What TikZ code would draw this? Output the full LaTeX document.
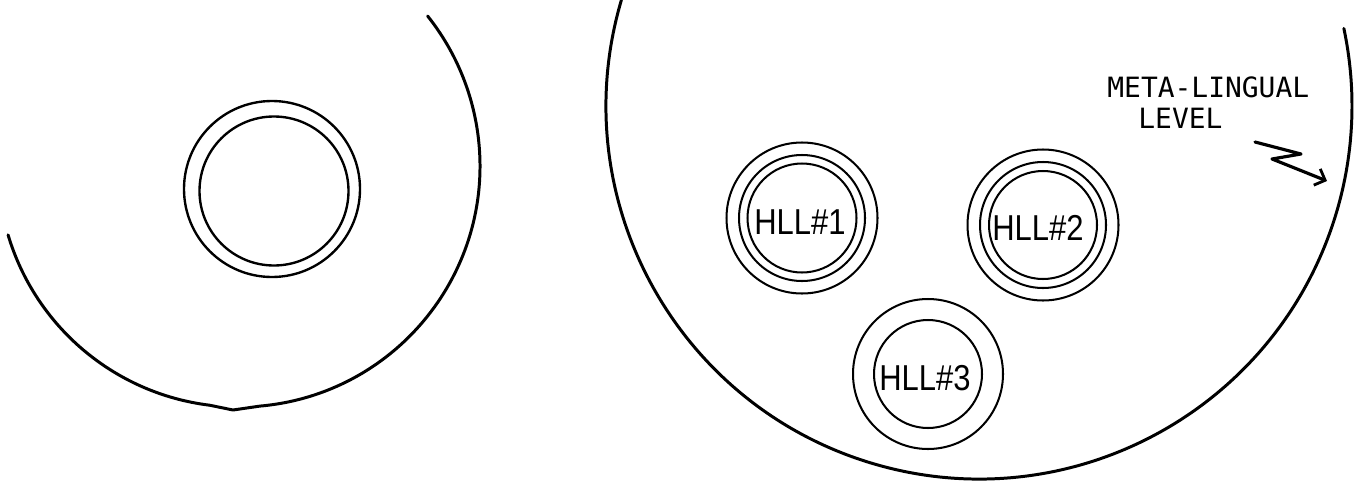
\documentclass[tikz,border=0pt]{standalone}
\usepackage{fontspec}
\usetikzlibrary{arrows.meta}
\newfontfamily\labelmono{DejaVu Sans Mono}
\newfontfamily\hllfont[FakeStretch=0.86]{Liberation Sans}
\tikzset{
  bigline/.style={line width=1.7pt, line cap=round, line join=round},
  ringline/.style={line width=1.35pt},
  hllring/.style={line width=1.15pt},
  hlltext/.style={inner sep=0pt, font=\hllfont\fontsize{20.5}{24}\selectfont},
  metatext/.style={inner sep=0pt, anchor=base west, font=\labelmono\fontsize{15.9}{19}\selectfont},
  pointer/.style={line width=1.8pt, line cap=round, line join=round, -{Straight Barb[length=5pt,width=10pt,line width=1.6pt]}}
}
\begin{document}
\begin{tikzpicture}[x=0.02cm, y=-0.02cm]
\useasboundingbox (0,0) rectangle (1362,487);

% ---- left figure ----
\coordinate (lac) at (239,166);
\coordinate (cusp) at (233,410);
\draw[bigline] ([shift={(163.4:241)}]lac) arc[start angle=163.4, end angle=97, radius=241]
   -- (cusp) -- ([shift={(85:241)}]lac) arc[start angle=85, end angle=-38.5, radius=241];
\coordinate (lc1) at (272,189);
\coordinate (lc2) at (274,191);
\draw[ringline] (lc1) circle[radius=88];
\draw[ringline] (lc2) circle[radius=74.5];

% ---- right figure: meta-lingual level ----
\coordinate (bigc) at (979,106);
\draw[bigline] ([shift={(196.5:373)}]bigc) arc[start angle=196.5, end angle=-12, radius=373];

% HLL #1
\coordinate (h1) at (802,218);
\draw[hllring] (h1) circle[radius=75.5];
\draw[hllring] (h1) circle[radius=63];
\draw[hllring] (h1) circle[radius=54.5];
\node[hlltext] (t1) at (800,222) {HLL\#1};

% HLL #2
\coordinate (h2) at (1043,225);
\draw[hllring] (h2) circle[radius=75.5];
\draw[hllring] (h2) circle[radius=63];
\draw[hllring] (h2) circle[radius=54];
\node[hlltext] (t2) at (1038,228) {HLL\#2};

% HLL #3
\coordinate (h3) at (928,374);
\draw[hllring] (h3) circle[radius=75];
\draw[hllring] (h3) circle[radius=54];
\node[hlltext] (t3) at (925,378) {HLL\#3};

% label and pointer
\node[metatext] (meta) at (1107,97) {META-LINGUAL};
\node[metatext] (lev) at (1138,128) {LEVEL};
\coordinate (p0) at (1255,142);
\coordinate (p1) at (1301,154);
\coordinate (p2) at (1272,159);
\coordinate (p3) at (1327,181);
\draw[pointer] (p0) -- (p1) -- (p2) -- (p3);
\end{tikzpicture}
\end{document}
